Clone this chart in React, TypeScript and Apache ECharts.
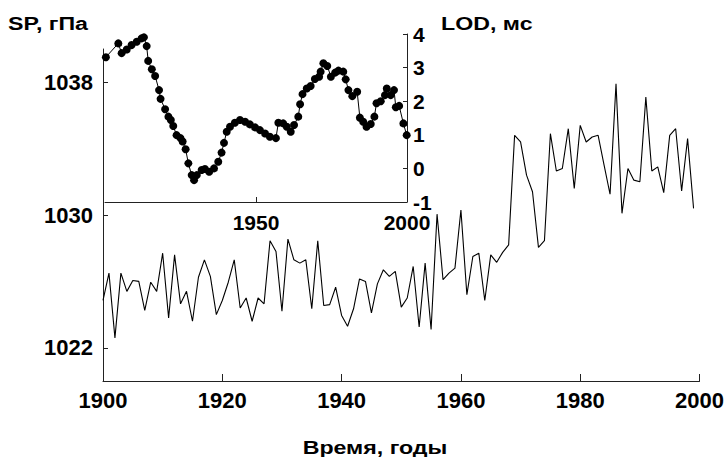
import React, { useEffect, useRef } from "react";
import * as echarts from "echarts";

// Main series: sea-level pressure SP (hPa), annual values 1900..1999
const spStartYear = 1900;
const spValues = [
  1024.85, 1026.5, 1022.6, 1026.5, 1025.4, 1026.05, 1026.0, 1024.25, 1025.95, 1025.4,
  1027.7, 1023.8, 1027.6, 1024.65, 1025.4, 1023.6, 1026.25, 1027.3, 1026.3, 1024.0,
  1024.85, 1025.95, 1027.3, 1024.4, 1025.0, 1023.6, 1025.0, 1024.65, 1028.45, 1027.8,
  1024.2, 1028.55, 1027.3, 1027.1, 1027.3, 1024.35, 1028.45, 1024.55, 1024.6, 1025.65,
  1023.95, 1023.3, 1024.35, 1026.15, 1026.0, 1024.1, 1025.85, 1026.7, 1026.3, 1026.6,
  1024.45, 1025.0, 1026.9, 1023.25, 1027.1, 1023.1, 1030.05, 1026.1, 1026.5, 1026.8,
  1030.3, 1025.2, 1027.5, 1027.7, 1024.85, 1027.6, 1027.15, 1027.75, 1028.2, 1034.8,
  1034.4, 1032.4, 1031.4, 1028.05, 1028.45, 1034.9, 1032.65, 1032.8, 1035.2, 1031.6,
  1035.4, 1034.4, 1034.7, 1034.8, 1033.0, 1031.25, 1037.9, 1030.1, 1032.8, 1032.1,
  1032.0, 1037.1, 1032.65, 1032.9, 1031.35, 1034.8, 1035.2, 1031.45, 1034.6, 1030.4,
];

// Inset: length of day LOD (ms)
const lodYears = [
  1900.3, 1904.4, 1905.5, 1907.2, 1908.8, 1910.5, 1912.1, 1912.9, 1913.8, 1914.3,
  1915.5, 1916.6, 1917.9, 1918.4, 1919.9, 1921.0, 1921.8, 1922.6, 1923.7, 1925.0,
  1925.7, 1926.7, 1927.6, 1928.7, 1929.5, 1930.4, 1932.0, 1933.1, 1934.5, 1936.1,
  1937.5, 1938.6, 1939.4, 1940.3, 1941.4, 1943.0, 1944.7, 1946.4, 1948.0, 1949.7,
  1951.3, 1953.0, 1954.6, 1956.6, 1957.4, 1959.0, 1960.2, 1961.5, 1962.6, 1964.0,
  1964.6, 1965.4, 1966.8, 1968.1, 1969.5, 1970.9, 1971.4, 1972.3, 1973.6, 1974.8,
  1976.2, 1977.3, 1978.9, 1979.7, 1980.6, 1981.9, 1983.5, 1984.4, 1985.5, 1986.6,
  1988.0, 1989.2, 1989.9, 1991.3, 1992.7, 1993.3, 1994.6, 1995.7, 1996.3, 1997.4,
  1998.8, 1999.9,
];
const lodValues = [
  3.31, 3.72, 3.43, 3.54, 3.67, 3.77, 3.87, 3.9, 3.64, 3.2,
  2.95, 2.75, 2.33, 2.07, 1.76, 1.54, 1.44, 1.26, 0.99, 0.9,
  0.8, 0.57, 0.15, -0.2, -0.35, -0.2, -0.05, -0.02, -0.1, 0.0,
  0.2, 0.47, 0.76, 1.09, 1.24, 1.36, 1.44, 1.39, 1.31, 1.22,
  1.14, 1.04, 0.94, 0.9, 1.36, 1.34, 1.24, 1.09, 1.29, 1.54,
  1.91, 2.21, 2.38, 2.45, 2.66, 2.73, 2.88, 3.13, 3.05, 2.73,
  2.85, 2.91, 2.88, 2.65, 2.33, 2.15, 2.28, 1.51, 1.39, 1.24,
  1.32, 1.54, 1.94, 2.0, 2.18, 2.38, 2.18, 2.33, 1.82, 1.86,
  1.34, 0.99,
];

const mainYTicks = [1022, 1030, 1038];
const insetXTicks = [1950, 2000];

const FONT = "'Liberation Sans', Arial, sans-serif";
const AX = "#222";

export default function App() {
  const ref = useRef<HTMLDivElement>(null);
  useEffect(() => {
    if (!ref.current) return;
    const chart = echarts.init(ref.current, undefined, { renderer: "svg" });
    const label = (extra: any = {}) => ({
      color: "#000",
      fontSize: 22,
      lineHeight: 22,
      fontWeight: "bold",
      fontFamily: FONT,
      formatter: (v: number) => String(v),
      ...extra,
    });
    const title = (text: string, x: number, y: number, align: string) => ({
      type: "text",
      x,
      y,
      scaleX: 1.22,
      style: {
        text,
        fill: "#000",
        font: `bold 19px ${FONT}`,
        align,
        verticalAlign: "middle",
      },
    });
    chart.setOption({
      animation: false,
      backgroundColor: "#fff",
      grid: [
        { left: 103, right: 27, top: 49, bottom: 76 },
        { left: 105, right: 320, top: 34, bottom: 255 },
      ],
      xAxis: [
        {
          gridIndex: 0,
          type: "value",
          min: 1900,
          max: 2000,
          interval: 20,
          axisLine: { onZero: false, lineStyle: { color: AX, width: 1 } },
          axisTick: { inside: true, length: 7, lineStyle: { color: AX } },
          axisLabel: label({ margin: 8 }),
          splitLine: { show: false },
        },
        {
          gridIndex: 1,
          type: "value",
          min: 1900,
          max: 2000,
          axisLine: { onZero: false, lineStyle: { color: AX, width: 1 } },
          axisTick: { inside: true, length: 5, lineStyle: { color: AX }, customValues: insetXTicks },
          axisLabel: label({ margin: 10, fontSize: 21, lineHeight: 20, customValues: insetXTicks }),
          splitLine: { show: false },
        },
      ],
      yAxis: [
        {
          gridIndex: 0,
          type: "value",
          min: 1020,
          max: 1040,
          axisLine: { show: true, onZero: false, lineStyle: { color: AX, width: 1 } },
          axisTick: { show: true, inside: true, length: 5, lineStyle: { color: AX }, customValues: mainYTicks },
          axisLabel: label({ margin: 10, customValues: mainYTicks }),
          splitLine: { show: false },
        },
        {
          gridIndex: 1,
          type: "value",
          position: "right",
          min: -1,
          max: 4,
          interval: 1,
          axisLine: { show: true, onZero: false, lineStyle: { color: AX, width: 1 } },
          axisTick: { show: true, inside: true, length: 4, lineStyle: { color: AX } },
          axisLabel: label({ margin: 6, fontSize: 21, lineHeight: 19 }),
          splitLine: { show: false },
        },
      ],
      graphic: [
        title("SP, гПа", 8, 23, "left"),
        title("LOD, мс", 441, 23, "left"),
        title("Время, годы", 375, 447, "center"),
      ],
      series: [
        {
          type: "line",
          xAxisIndex: 0,
          yAxisIndex: 0,
          data: spValues.map((v, i) => [spStartYear + i, v]),
          showSymbol: false,
          lineStyle: { color: "#000", width: 1.1 },
        },
        {
          type: "line",
          xAxisIndex: 1,
          yAxisIndex: 1,
          data: lodYears.map((y, i) => [y, lodValues[i]]),
          symbol: "circle",
          symbolSize: 8,
          showAllSymbol: true,
          itemStyle: { color: "#000" },
          lineStyle: { color: "#000", width: 1 },
        },
      ],
    });
    return () => chart.dispose();
  }, []);
  return (
    <div
      ref={ref}
      style={{ position: "fixed", left: 0, top: 0, width: 727, height: 457, background: "#fff" }}
    />
  );
}
